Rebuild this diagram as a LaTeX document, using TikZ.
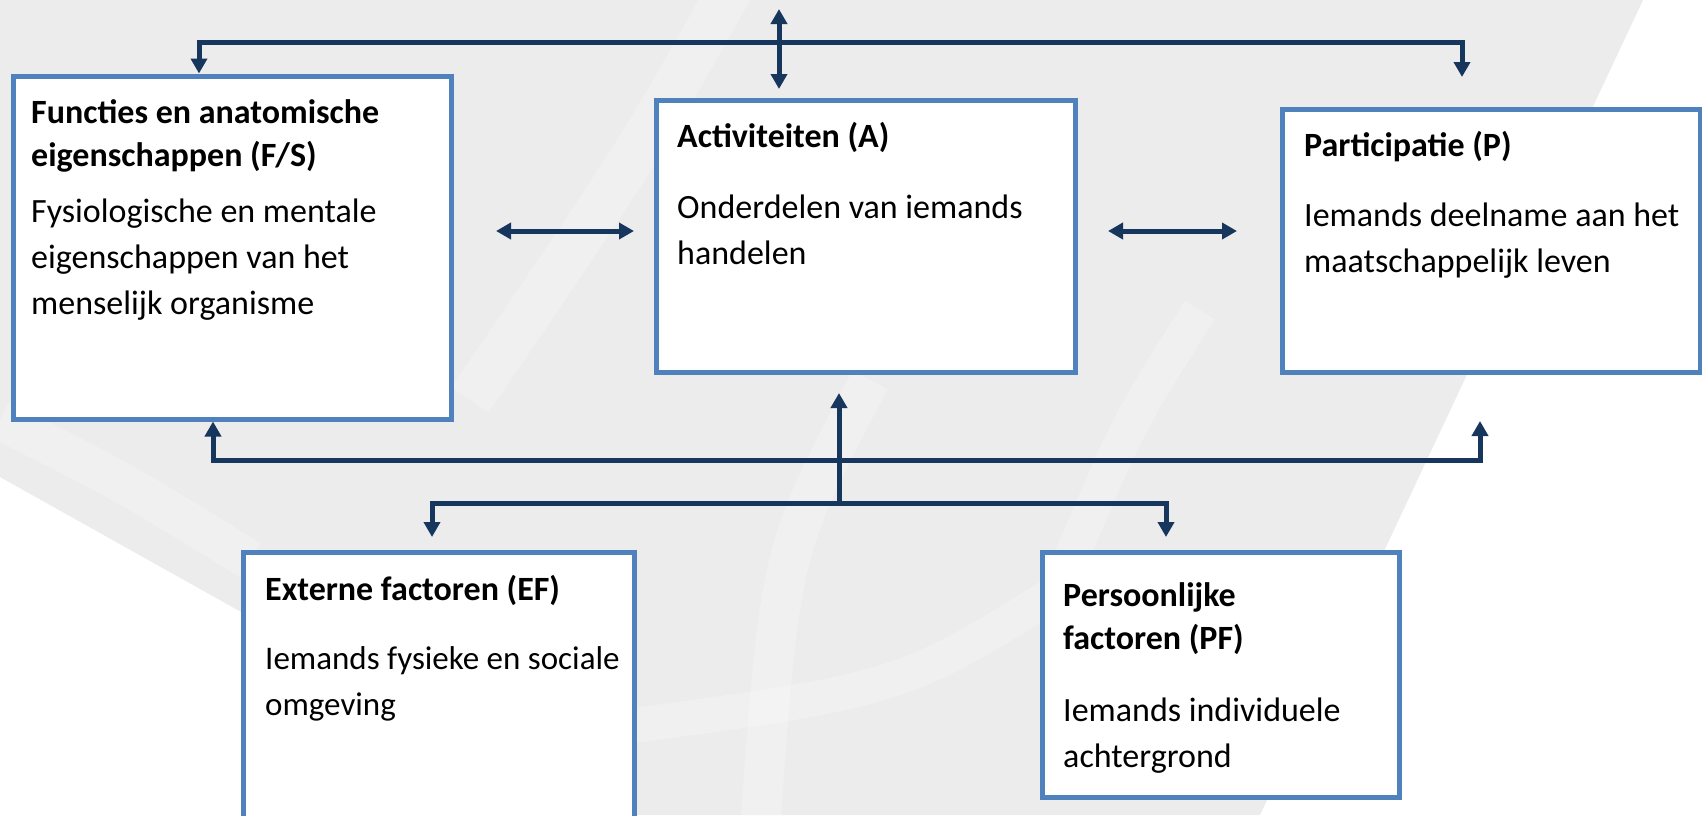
\documentclass[tikz,border=0pt]{standalone}
\usepackage{fontspec}
\setmainfont{Carlito}
\usepackage{xcolor}
\definecolor{boxblue}{RGB}{79,129,189}
\definecolor{linkblue}{RGB}{23,54,93}
\definecolor{bggray}{RGB}{236,236,236}
\usepackage{tikz}
\usetikzlibrary{arrows.meta}

\begin{document}
\begin{tikzpicture}[x=1pt, y=-1pt,
    >={Triangle[length=15pt, width=16pt]},
    box/.style={draw=boxblue, line width=5pt, fill=white, inner sep=0pt},
    link/.style={draw=linkblue, line width=5pt},
    swoosh/.style={white, opacity=0.22},
    title/.style={font=\fontsize{34}{43}\selectfont\bfseries, anchor=base west,
      inner sep=0pt, align=left},
    body/.style={font=\fontsize{34}{46}\selectfont, anchor=base west,
      inner sep=0pt, align=left}]

    \clip (0, 0) rectangle (1702, 815);
    \fill [white] (0, 0) rectangle (1702, 815);
    \fill [bggray] (0, 0) -- (1643, 0) -- (1260, 815) -- (243, 815)
      -- (243, 613) -- (0, 477) -- cycle;

    \draw [swoosh, line width=45pt] (730, -10)
      .. controls (640, 150) .. (470, 400);
    \draw [swoosh, line width=40pt] (870, 380)
      .. controls (780, 550) .. (760, 830);
    \draw [swoosh, line width=35pt] (1060, 590)
      .. controls (900, 690) .. (600, 730);
    \draw [swoosh, line width=40pt] (0, 420)
      .. controls (120, 480) .. (250, 560);
    \draw [swoosh, line width=35pt] (1200, 310)
      .. controls (1130, 420) .. (1070, 560);

    \node [box, minimum width=438pt, minimum height=343pt] (fs) at (232, 247.5) {};
    \node [box, minimum width=419pt, minimum height=272pt] (act) at (865.5, 236) {};
    \node [box, minimum width=418pt, minimum height=263pt] (par) at (1491, 240.5) {};
    \node [box, minimum width=391pt, minimum height=300pt] (ef) at (438.5, 702) {};
    \node [box, minimum width=357pt, minimum height=245pt] (pf) at (1220.5, 674.5) {};

    \node [title] (fs-title) at (31, 166) {Functies en anatomische\\eigenschappen (F/S)};
    \node [body] (fs-text) at (31, 314)
    {Fysiologische en mentale\\eigenschappen van het\\menselijk organisme};

    \node [title] (act-title) at (677, 147) {Activiteiten (A)};
    \node [body] (act-text) at (677, 264) {Onderdelen van iemands\\handelen};

    \node [title] (par-title) at (1304, 156) {Participatie (P)};
    \node [body] (par-text) at (1304, 272) {Iemands deelname aan het\\maatschappelijk leven};

    \node [title] (ef-title) at (265, 600) {Externe factoren (EF)};
    \node [body, font=\fontsize{33}{46}\selectfont] (ef-text) at (265, 715)
    {Iemands fysieke en sociale\\omgeving};

    \node [title] (pf-title) at (1063, 649) {Persoonlijke\\factoren (PF)};
    \node [body] (pf-text) at (1063, 767) {Iemands individuele\\achtergrond};

    \coordinate (topend) at (779, 9);
    \coordinate (fsdrop) at (199, 42);
    \coordinate (pardrop) at (1462, 42);
    \coordinate (midrow) at (0, 231);
    \coordinate (fsrise) at (213, 460);
    \coordinate (parrise) at (1480, 460);
    \coordinate (hub) at (839, 503);
    \coordinate (efdrop) at (432, 503);
    \coordinate (pfdrop) at (1166, 503);

    \draw [link, <->, shorten >=29.5pt] (fs.north -| fsdrop) -- (fsdrop)
      -- (pardrop) -- (pardrop |- par.north);
    \draw [link, <->, shorten >=8.5pt] (topend) -- (topend |- act.north);

    \draw [link, <->, shorten <=42.5pt, shorten >=19.5pt]
      (fs.east |- midrow) -- (act.west |- midrow);
    \draw [link, <->, shorten <=30.5pt, shorten >=42.5pt]
      (act.east |- midrow) -- (par.west |- midrow);

    \draw [link, <->, shorten >=46.5pt] (fs.south -| fsrise) -- (fsrise)
      -- (parrise) -- (parrise |- par.south);
    \draw [link, ->, shorten >=18.5pt] (hub) -- (hub |- act.south);
    \draw [link, <->, shorten <=12.5pt, shorten >=12.5pt] (ef.north -| efdrop)
      -- (efdrop) -- (pfdrop) -- (pfdrop |- pf.north);

  \end{tikzpicture}
\end{document}
